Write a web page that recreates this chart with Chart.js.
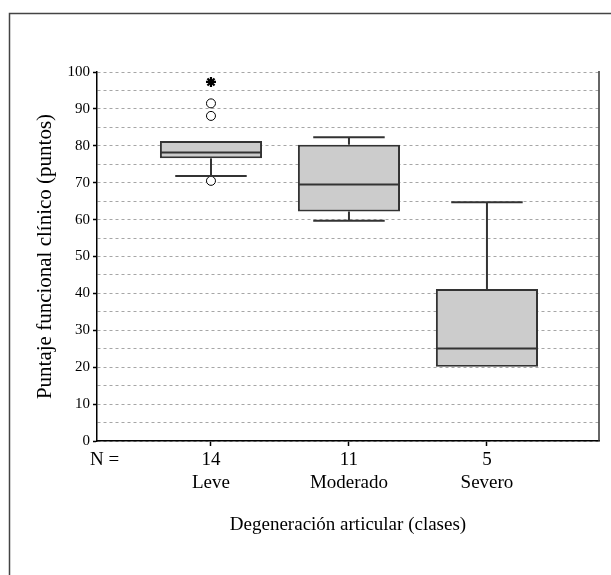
<!DOCTYPE html>
<html lang="es">
  <head>
    <meta charset="UTF-8" />
    <title>Puntaje funcional clínico</title>
    <style>
      body {
        margin: 0;
        background: #ffffff;
      }
      .chart-box {
        position: relative;
        width: 611px;
        height: 575px;
      }
    </style>
  </head>
  <body>
    <div class="chart-box">
      <canvas id="boxChart"></canvas>
    </div>

    <script src="https://cdn.jsdelivr.net/npm/chart.js"></script>
    <script>
      // Datos
      const categories = ["Leve", "Moderado", "Severo"];
      const nCounts = [14, 11, 5];
      const whiskerLow = [71.8, 59.7, 20.1];
      const q1 = [76.6, 62.2, 20.1];
      const median = [78.2, 69.5, 25.1];
      const q3 = [81.3, 80.3, 41.2];
      const whiskerHigh = [81.3, 82.3, 64.7];
      const outliers = [[70.5, 88.1, 91.5], [], []];
      const extremes = [[97.3], [], []];
      const yTicks = { min: 0, max: 100, step: 5, labelEvery: 10 };

      const serif = "'Liberation Serif', 'Times New Roman', serif";

      // bigotes, topes y medianas sobre las cajas
      const boxPlotPlugin = {
        id: "boxPlot",
        beforeDraw(chart) {
          const ctx = chart.ctx;
          ctx.save();
          ctx.strokeStyle = "#444";
          ctx.lineWidth = 1.5;
          ctx.beginPath();
          ctx.moveTo(9.5, chart.height);
          ctx.lineTo(9.5, 13.5);
          ctx.lineTo(chart.width, 13.5);
          ctx.stroke();
          ctx.restore();
        },
        afterDatasetsDraw(chart) {
          const ctx = chart.ctx;
          const y = chart.scales.y;
          const meta = chart.getDatasetMeta(0);
          const area = chart.chartArea;

          ctx.save();
          ctx.strokeStyle = "#333";
          ctx.lineWidth = 2;
          meta.data.forEach((bar, i) => {
            const cx = bar.x;
            const half = bar.width / 2;
            const capHalf = half * 0.7;

            const line = (x1, y1, x2, y2) => {
              ctx.beginPath();
              ctx.moveTo(x1, y1);
              ctx.lineTo(x2, y2);
              ctx.stroke();
            };

            if (whiskerHigh[i] > q3[i]) {
              line(cx, y.getPixelForValue(q3[i]), cx, y.getPixelForValue(whiskerHigh[i]));
              const yy = y.getPixelForValue(whiskerHigh[i]);
              line(cx - capHalf, yy, cx + capHalf, yy);
            }
            if (whiskerLow[i] < q1[i]) {
              line(cx, y.getPixelForValue(q1[i]), cx, y.getPixelForValue(whiskerLow[i]));
              const yy = y.getPixelForValue(whiskerLow[i]);
              line(cx - capHalf, yy, cx + capHalf, yy);
            }
            const ym = y.getPixelForValue(median[i]);
            line(cx - half + 1, ym, cx + half - 1, ym);
          });

          // borde derecho del área
          ctx.strokeStyle = "#333";
          ctx.lineWidth = 1.5;
          ctx.beginPath();
          ctx.moveTo(area.right, area.top - 1);
          ctx.lineTo(area.right, area.bottom);
          ctx.stroke();

          // rótulo "N ="
          ctx.fillStyle = "#000";
          ctx.font = "19px " + serif;
          ctx.textAlign = "left";
          ctx.textBaseline = "middle";
          ctx.fillText("N =", area.left - 7, area.bottom + 19);
          ctx.restore();
        },
      };

      const outlierPoints = [];
      const extremePoints = [];
      categories.forEach((c, i) => {
        outliers[i].forEach((v) => outlierPoints.push({ x: i, y: v }));
        extremes[i].forEach((v) => extremePoints.push({ x: i, y: v }));
      });

      const ctx = document.getElementById("boxChart").getContext("2d");
      const boxChart = new Chart(ctx, {
        type: "bar",
        data: {
          datasets: [
            {
              label: "Caja",
              data: categories.map((c, i) => ({ x: i, y: [q1[i], q3[i]] })),
              backgroundColor: "#cccccc",
              borderColor: "#333",
              borderWidth: 2,
              borderSkipped: false,
              barPercentage: 1,
              categoryPercentage: 0.74,
            },
            {
              type: "scatter",
              label: "Atípicos",
              data: outlierPoints,
              pointStyle: "circle",
              radius: 4.5,
              backgroundColor: "#fff",
              borderColor: "#000",
              borderWidth: 1,
            },
            {
              type: "scatter",
              label: "Extremos",
              data: extremePoints,
              pointStyle: "star",
              radius: 5,
              borderColor: "#000",
              borderWidth: 2.2,
            },
          ],
        },
        options: {
          responsive: true,
          maintainAspectRatio: false,
          animation: false,
          layout: {
            padding: { top: 72, right: 12, left: 0, bottom: 0 },
          },
          plugins: {
            legend: { display: false },
            tooltip: { enabled: false },
          },
          scales: {
            x: {
              type: "linear",
              min: -0.826,
              max: 2.812,
              offset: false,
              afterFit: (scale) => {
                scale.height = 134;
              },
              afterBuildTicks: (scale) => {
                scale.ticks = categories.map((c, i) => ({ value: i }));
              },
              grid: {
                offset: false,
                drawOnChartArea: false,
                tickLength: 5,
                tickColor: "#000",
                tickWidth: 1.5,
              },
              border: { color: "#000", width: 1.5 },
              ticks: {
                color: "#000",
                padding: 3,
                maxRotation: 0,
                font: { family: serif, size: 19, lineHeight: 1.21 },
                callback: (v) => [String(nCounts[v]), categories[v]],
              },
              title: {
                display: true,
                text: "Degeneración articular (clases)",
                color: "#000",
                font: { family: serif, size: 19 },
                padding: { top: 0, bottom: 39 },
              },
            },
            y: {
              min: yTicks.min,
              max: yTicks.max,
              afterFit: (scale) => {
                scale.width = 97;
              },
              grid: {
                color: "#a6a6a6",
                lineWidth: 1,
                tickLength: 4,
                tickWidth: 1.5,
                tickColor: (c) =>
                  c.tick && c.tick.value % yTicks.labelEvery === 0 ? "#000" : "rgba(0,0,0,0)",
              },
              border: { color: "#000", width: 1.5, dash: [3, 3] },
              ticks: {
                stepSize: yTicks.step,
                maxTicksLimit: 30,
                autoSkip: false,
                color: "#000",
                padding: 3,
                font: { family: serif, size: 15 },
                callback: (v) => (v % yTicks.labelEvery === 0 ? v : ""),
              },
              title: {
                display: true,
                text: "Puntaje funcional clínico (puntos)",
                color: "#000",
                font: { family: serif, size: 21 },
                padding: { top: 33, bottom: 0 },
              },
            },
          },
        },
        plugins: [boxPlotPlugin],
      });
    </script>
  </body>
</html>
